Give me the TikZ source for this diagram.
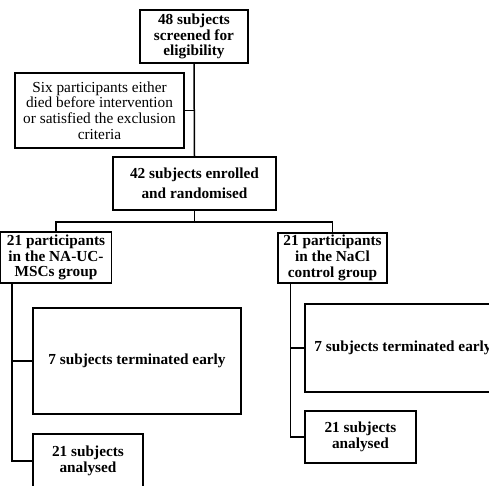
\documentclass[tikz,border=0pt]{standalone}
\usepackage{fontspec}
\setmainfont{Liberation Serif}
\usetikzlibrary{calc}

\begin{document}
\begin{tikzpicture}[x=1pt,y=-1pt]
%styles
\tikzstyle{boxBold}=[rectangle, draw, line width=1.5pt, align=center, inner sep=0pt, font=\bfseries\fontsize{15.3}{15.8}\selectfont]
\tikzstyle{boxPlain}=[boxBold, font=\mdseries\fontsize{15.3}{15.8}\selectfont]
\tikzstyle{link}=[line width=1.5pt]

\useasboundingbox (0,0) rectangle (489,485);
\clip (0,0) rectangle (489,485);

%boxes
\node[boxBold, minimum width=108pt, minimum height=53pt] (screen) at (194,36.5) {48 subjects\\screened for\\eligibility};
\node[boxPlain, minimum width=169pt, minimum height=75pt] (excl) at (99.5,110.5) {Six participants either\\died before intervention\\or satisfied the exclusion\\criteria};
\node[boxBold, minimum width=163pt, minimum height=53pt, font=\bfseries\fontsize{15.3}{20}\selectfont] (enrol) at (194.5,183.5) {42 subjects enrolled\\and randomised};

\node[boxBold, minimum width=111pt, minimum height=51pt] (grpA) at (56,257.5) {21 participants\\in the NA-UC-\\MSCs group};
\node[boxBold, minimum width=109pt, minimum height=50pt] (grpB) at (332.5,258) {21 participants\\in the NaCl\\control group};

\node[boxBold, minimum width=208pt, minimum height=106pt] (termA) at (137,361) {7 subjects terminated early};
\node[boxBold, minimum width=110pt, minimum height=54pt] (anaA) at (88,461) {21 subjects\\analysed};

\node[boxBold, minimum width=196pt, minimum height=88pt] (termB) at (403,348) {7 subjects terminated early};
\node[boxBold, minimum width=111pt, minimum height=52pt] (anaB) at (360.5,437) {21 subjects\\analysed};

%links
\draw[link] (screen.south) -- (enrol.north);
\draw[link] (excl.east) -- (excl.east -| screen.south);
\draw[link] (enrol.south) -- ++(0,11) coordinate (split);
\draw[link] (grpA.north) |- (split) -| (grpB.north);

\coordinate (trunkA) at ($(grpA.south west)+(12,0)$);
\coordinate (trunkB) at ($(grpB.south west)+(13,0)$);
\draw[link] (trunkA) |- (termA.west);
\draw[link] (trunkA) |- (anaA.west);
\draw[link] (trunkB) |- (termB.west);
\draw[link] (trunkB) |- (anaB.west);

\end{tikzpicture}
\end{document}
